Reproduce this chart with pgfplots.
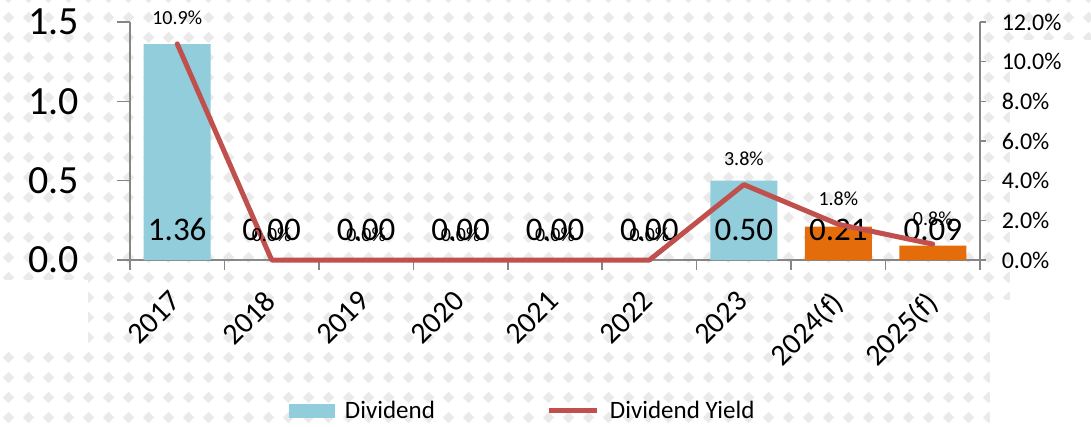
\documentclass[border=0pt]{standalone}
\usepackage{pgfplots}
\pgfplotsset{compat=1.18}
\usepackage{fontspec}
\setmainfont{Carlito}
\usetikzlibrary{patterns}
\definecolor{divblue}{RGB}{146,205,220}
\definecolor{divorange}{RGB}{228,108,10}
\definecolor{yieldred}{RGB}{192,80,77}
\definecolor{axgray}{RGB}{134,134,134}
\definecolor{bgdiam}{RGB}{234,234,234}
\pgfdeclarepatternformonly{diamonds}{\pgfpointorigin}{\pgfpoint{20pt}{20pt}}{\pgfpoint{20pt}{20pt}}{%
  \pgfpathmoveto{\pgfpoint{10pt}{4pt}}%
  \pgfpathlineto{\pgfpoint{16pt}{10pt}}%
  \pgfpathlineto{\pgfpoint{10pt}{16pt}}%
  \pgfpathlineto{\pgfpoint{4pt}{10pt}}%
  \pgfpathclose\pgfusepath{fill}}
\newcommand\fs[1]{\fontsize{#1}{#1}\selectfont}
\pgfplotsset{
  common/.style={
    scale only axis, width=850pt, height=238pt,
    at={(0,0)}, anchor=south west,
    xmin=-0.5, xmax=8.5,
    axis line style={draw=axgray, line width=1.5pt},
    every tick/.style={draw=axgray, line width=1.5pt},
    tick align=outside,
    /pgf/number format/assume math mode=true,
    clip=false,
  },
  barleg/.style={legend image code/.code={\fill[divblue] (0pt,-7pt) rectangle (46pt,7pt);}},
  lineleg/.style={legend image code/.code={\draw[yieldred, line width=5pt] (0pt,0pt) -- (48pt,0pt);}},
}
\begin{document}
\begin{tikzpicture}
\useasboundingbox (-130pt,-166pt) rectangle (961pt,260pt);
% decorative background
\fill[pattern=diamonds, pattern color=bgdiam] (-130pt,-166pt) rectangle (961pt,260pt);
\fill[white] (-130pt,-20pt) rectangle (-42pt,-92pt);
\fill[white] (860pt,-40pt) rectangle (961pt,-166pt);
\fill[white] (880pt,220pt) rectangle (961pt,-40pt);
\begin{axis}[common,
  ymin=0, ymax=1.5,
  axis y line*=left, axis x line*=bottom,
  ytick={0,0.5,1,1.5},
  yticklabel={\pgfmathprintnumber[fixed, fixed zerofill, precision=1]{\tick}},
  yticklabel style={font=\fs{40}, xshift=-43pt},
  major y tick style={/pgfplots/major tick length=13pt},
  xtick={0,...,8},
  xticklabels={2017,2018,2019,2020,2021,2022,2023,2024(f),2025(f)},
  major x tick style={draw=none},
  minor xtick={-0.5,0.5,...,8.5},
  minor x tick style={/pgfplots/minor tick length=10pt},
  xticklabel style={font=\fs{30}, rotate=45, anchor=north east, yshift=-8pt, xshift=-20pt},
  legend columns=2,
  legend style={draw=none, fill=none, at={(0.462,-0.634)}, anchor=center,
     font=\fs{25}, /tikz/every even column/.append style={column sep=110pt},
     /tikz/every odd column/.append style={column sep=8pt}},
]
\addplot[ybar, bar width=67pt, bar shift=0pt, fill=divblue, draw=none, barleg]
  coordinates {(0,1.36) (1,0) (2,0) (3,0) (4,0) (5,0) (6,0.50)};
\addlegendentry{Dividend}
\addlegendimage{lineleg}
\addlegendentry{Dividend Yield}
\addplot[ybar, bar width=67pt, bar shift=0pt, fill=divorange, draw=none, forget plot]
  coordinates {(7,0.21) (8,0.09)};
\addplot[draw=none, forget plot, point meta=explicit symbolic,
  nodes near coords,
  every node near coord/.append style={anchor=base, yshift=20pt, font=\fs{33}, text=black}]
  table[meta=lab] {
x y lab
0 0 1.36
1 0 0.00
2 0 0.00
3 0 0.00
4 0 0.00
5 0 0.00
6 0 0.50
7 0 0.21
8 0 0.09
};
\end{axis}
\begin{axis}[common,
  ymin=0, ymax=12,
  axis y line*=right, axis x line=none,
  ytick={0,2,...,12},
  yticklabel={\pgfmathprintnumber[fixed, fixed zerofill, precision=1]{\tick}\%},
  yticklabel style={font=\fs{24}, xshift=14pt},
  major y tick style={/pgfplots/major tick length=6pt},
]
\addplot[yieldred, line width=5pt, line join=round, line cap=round,
  point meta=explicit symbolic, nodes near coords,
  every node near coord/.append style={anchor=base, yshift=19pt, font=\fs{20}, text=black}]
  table[meta=lab] {
x y lab
0 10.9 10.9\%
1 0 0.0\%
2 0 0.0\%
3 0 0.0\%
4 0 0.0\%
5 0 0.0\%
6 3.8 3.8\%
7 1.8 1.8\%
8 0.8 0.8\%
};
\end{axis}
\end{tikzpicture}
\end{document}
